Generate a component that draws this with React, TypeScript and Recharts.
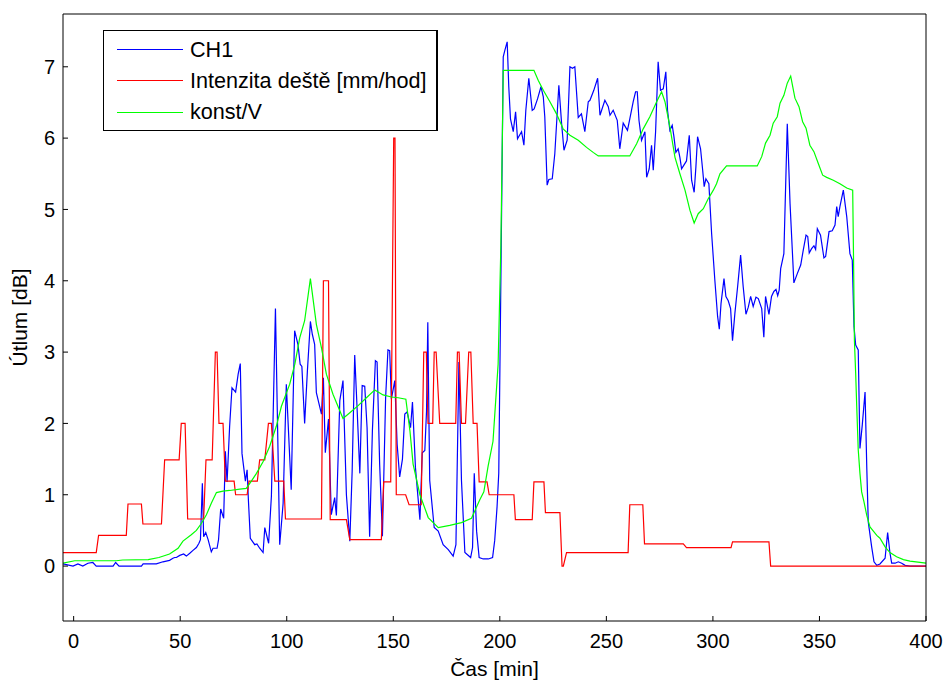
import React from 'react';
import { LineChart, Line, XAxis, YAxis, Legend } from 'recharts';

// CH1 – measured attenuation [dB]
const ch1Time = [
  -5, -0.3, 2, 4.3, 6.7, 9, 10.6, 18.5, 19.7, 21.3, 31.8, 32.6, 38.8, 41.9, 45, 46.6, 47.4, 48.2, 49.8, 51.6,
  52.9, 54.5, 56, 57.6, 58.8, 59.5, 60.4, 61, 62, 63.1, 64.6, 65.4, 67.3, 68, 69, 70.4, 71.2, 72, 73.2, 74.3,
  76, 77.2, 78.2, 79, 80.6, 81.4, 82, 82.9, 85, 86, 87.3, 88.9, 89.7, 91.5, 92.8, 94.7, 96.7, 98.3, 99.8, 102.1,
  103.7, 105.3, 106.3, 107.1, 108.4, 109.7, 111.1, 112, 113.1, 113.9, 116.3, 117.2, 118.1, 119.6, 120.9, 122.5, 123.3, 124.9, 126.4, 128,
  129.6, 130.7, 131.9, 133, 134.3, 135.4, 136.6, 137.7, 138.9, 140.2, 141.6, 142.4, 143.6, 144.9, 146.4, 147.5, 148.3, 149.1, 150.7, 151.8,
  153, 154.3, 155.4, 156.5, 158.1, 159, 160.4, 162.5, 163.6, 164.8, 165.6, 166.2, 166.7, 167.1, 169.2, 171.1, 173.4, 175.8, 178.1, 179.4,
  180.8, 182, 183.6, 186.3, 187.2, 188, 189.1, 190.3, 192.2, 194.6, 196.6, 197.6, 198.7, 199.5, 200.4, 201.6, 202.35, 203.45, 204.2, 205,
  206.3, 207.4, 208.3, 210.2, 211.3, 212.2, 213.6, 215.2, 216.1, 217.7, 219.3, 220.4, 221.1, 222.2, 223, 224.6, 225.8, 227.7, 229, 230.1,
  231.6, 232.9, 234.1, 235.2, 236.8, 238.3, 239.9, 241.5, 242.3, 244.1, 245.9, 247, 249.3, 250.9, 251.7, 253.2, 255.1, 256.3, 257.9, 259.9,
  261, 262.6, 263.7, 264.5, 265.3, 266.5, 268.1, 268.9, 270.1, 271.2, 272, 273.1, 274.3, 275.4, 276.7, 277.9, 278.7, 279.8, 280.9, 281.7,
  282.6, 283.7, 284.5, 285.3, 287.6, 288.9, 290, 291.2, 292, 292.8, 294.2, 295.2, 295.9, 296.7, 298.1, 299.4, 300.9, 302.2, 303, 303.8,
  305.2, 306.1, 307.2, 308.3, 309.2, 310.3, 311.6, 313, 314.2, 315.5, 316.6, 317.7, 318.9, 320.2, 321.3, 322.9, 323.9, 324.7, 326.3, 327.5,
  328.6, 329.6, 330.4, 331.1, 331.8, 333.3, 334.9, 336.2, 338, 339.6, 341.2, 342.4, 343.7, 344.5, 345.2, 346.3, 347.4, 348.2, 349, 350.5,
  352.1, 352.9, 354.5, 356, 357.3, 358.1, 358.8, 359.6, 361.2, 362.8, 364.3, 365.4, 366.2, 367, 368.2, 369, 370.1, 371.4, 372.2, 372.9,
  374.5, 375.6, 376.9, 378.4, 380.8, 382, 383.1, 383.9, 385.5, 387, 388.6, 390.2, 392.5, 400,
];
const ch1Value = [
  0.03, 0, 0.03, 0, 0.04, 0.05, 0, 0, 0.05, 0, 0, 0.03, 0.03, 0.06, 0.08, 0.11, 0.12, 0.12, 0.15, 0.17,
  0.14, 0.18, 0.22, 0.26, 0.32, 0.37, 1.16, 0.41, 0.47, 0.37, 0.2, 0.25, 0.25, 0.37, 0.8, 0.67, 1.61, 1.18, 1.96, 2.5,
  2.44, 2.69, 2.84, 1.58, 1.19, 1.35, 0.93, 0.39, 0.3, 0.31, 0.25, 0.19, 0.54, 0.32, 0.98, 3.61, 0.3, 0.88, 2.55, 1.07,
  3.3, 3.1, 2.83, 2.8, 2.0, 2.74, 3.43, 3.25, 3.11, 2.43, 2.13, 2.64, 1.59, 2.06, 0.72, 0.96, 0.71, 2.32, 2.6, 1.0,
  0.35, 1.33, 2.96, 2.22, 1.3, 2.53, 2.52, 1.94, 0.41, 1.9, 2.88, 2.86, 1.43, 0.42, 2.36, 3.03, 3.02, 2.34, 2.6, 1.71,
  1.25, 1.5, 2.13, 2.16, 1.94, 2.3, 1.38, 0.65, 1.59, 1.62, 2.17, 3.42, 2.13, 1.2, 0.54, 0.49, 0.3, 0.23, 0.14, 0.3,
  2.86, 1.2, 0.19, 0.12, 0.26, 1.3, 0.49, 0.12, 0.1, 0.1, 0.12, 0.36, 0.83, 1.3, 3.77, 7.14, 7.23, 7.35, 6.72, 6.27,
  6.09, 6.37, 5.99, 6.09, 5.9, 6.39, 6.84, 6.39, 6.41, 6.55, 6.72, 6.58, 6.3, 5.34, 5.42, 5.43, 5.78, 6.74, 6.2, 5.83,
  5.97, 7.0, 6.98, 7.0, 6.29, 6.34, 6.09, 6.51, 6.53, 6.67, 6.84, 6.32, 6.53, 6.44, 6.32, 6.39, 6.25, 5.85, 6.21, 6.11,
  6.27, 6.51, 6.65, 6.65, 6.25, 5.97, 6.09, 5.45, 5.57, 5.9, 5.55, 6.09, 7.07, 6.67, 6.69, 6.93, 6.39, 6.11, 6.18, 6.02,
  5.8, 5.85, 5.73, 5.57, 5.68, 6.04, 5.41, 5.24, 5.59, 6.02, 5.85, 5.55, 5.32, 5.43, 5.36, 4.66, 4.01, 3.5, 3.32, 3.68,
  4.03, 3.78, 3.72, 3.61, 3.16, 3.54, 3.92, 4.36, 3.92, 3.53, 3.63, 3.78, 3.64, 3.77, 3.75, 3.61, 3.21, 3.78, 3.53, 3.78,
  3.85, 3.88, 3.79, 3.87, 4.17, 4.38, 6.2, 5.08, 3.97, 4.1, 4.22, 4.43, 4.64, 4.62, 4.39, 4.45, 4.49, 4.44, 4.73, 4.64,
  4.32, 4.34, 4.69, 4.7, 4.78, 5.04, 4.9, 5.04, 5.27, 4.9, 4.38, 4.29, 3.36, 3.1, 3.03, 1.65, 1.98, 2.44, 1.39, 0.62,
  0.27, 0.06, 0.01, 0.03, 0.11, 0.47, 0.18, 0.04, 0.04, 0.06, 0.04, 0.01, 0, 0,
];

// Intenzita deště [mm/hod] – rain intensity (stepwise)
const rainTime = [
  -5, 10.6, 11.7, 24.7, 25.5, 31.8, 32.5, 41.2, 42.7, 49.5, 50.5, 52.3, 53.5, 61, 62.1, 65, 66.5, 67.3, 68.2, 70.1,
  71.2, 75.3, 76, 81.4, 82.3, 86.2, 87.3, 89.7, 91.4, 92.8, 94.4, 98.6, 99.4, 116.3, 117.2, 119.6, 120.4, 128, 129.6, 144.4,
  145.5, 148.8, 150.2, 150.8, 151.4, 155.8, 157.4, 163.1, 164.3, 165.5, 166.3, 168.5, 169.2, 170.1, 171.8, 179.3, 180.1, 180.9, 182, 183.9,
  185.4, 186.4, 187.5, 189.3, 190.3, 194, 195, 206.6, 207.3, 215.2, 216, 220.7, 221.4, 228.2, 229.2, 229.8, 231.3, 260.2, 261, 267.1,
  267.9, 286.1, 287.6, 308.5, 309.2, 326.3, 327.1, 400,
];
const rainValue = [
  0.19, 0.19, 0.43, 0.43, 0.87, 0.87, 0.59, 0.59, 1.49, 1.49, 2.0, 2.0, 0.66, 0.66, 1.49, 1.49, 3.0, 3.0, 2.0, 2.0,
  1.19, 1.19, 1.0, 1.0, 1.19, 1.19, 1.49, 1.49, 2.0, 2.0, 1.19, 1.19, 0.66, 0.66, 4.0, 4.0, 0.65, 0.65, 0.37, 0.37,
  1.18, 1.18, 6.0, 6.0, 1.0, 1.0, 0.86, 0.86, 3.0, 3.0, 2.0, 2.0, 3.0, 3.0, 2.0, 2.0, 3.0, 3.0, 2.0, 2.0,
  3.0, 3.0, 2.0, 2.0, 1.18, 1.18, 1.0, 1.0, 0.65, 0.65, 1.18, 1.18, 0.75, 0.75, 0.0, 0.0, 0.19, 0.19, 0.86, 0.86,
  0.31, 0.31, 0.26, 0.26, 0.34, 0.34, 0.0, 0.0,
];

// konst/V
const konstTime = [
  -5, 0.5, 20, 23, 35, 40, 45, 49, 51.3, 55.2, 57.6, 60, 62.3, 64.6, 67, 70.1, 73.2, 78, 81, 83.4,
  85.8, 89, 92, 95.1, 97.5, 101.4, 103.8, 106.1, 108.4, 111.1, 113.9, 116.3, 118.6, 121.7, 126.4, 129.6, 133.5, 137.4, 141.3, 145.2,
  149.1, 152.3, 155.9, 157.8, 159.3, 162.5, 166.4, 171.1, 176.5, 182, 186.7, 190.6, 192.5, 194.5, 196.8, 199.2, 200.5, 201.6, 216, 218,
  220.4, 223.5, 226.6, 229.7, 232.9, 236.8, 240.7, 243.8, 246.2, 261, 264.2, 267.3, 270.4, 273.6, 275.9, 277.5, 279.8, 282.2, 284.5, 286.9,
  289.2, 291.2, 293.1, 295.5, 297.8, 300.2, 301.7, 303.3, 306.4, 320.8, 322.9, 324.7, 326.8, 328.3, 330.2, 331.5, 333.3, 334.9, 336.5, 338.5,
  340.4, 342.1, 343.7, 345.5, 347.4, 349.5, 351.5, 353.4, 356.5, 359.6, 362.8, 365.6, 366, 366.4, 367, 367.5, 368.2, 369, 369.8, 370.9,
  372.2, 373.7, 375.3, 376.9, 378.4, 380.8, 383.1, 386.2, 389.4, 392.5, 400,
];
const konstValue = [
  0.04, 0.075, 0.075, 0.085, 0.09, 0.12, 0.17, 0.25, 0.35, 0.44, 0.5, 0.6, 0.72, 0.88, 1.03, 1.05, 1.06, 1.08, 1.09, 1.19,
  1.3, 1.47, 1.68, 1.96, 2.24, 2.55, 2.83, 3.2, 3.44, 4.03, 3.39, 3.06, 2.69, 2.41, 2.07, 2.15, 2.25, 2.36, 2.47, 2.4,
  2.37, 2.36, 2.34, 1.9, 1.43, 1.0, 0.68, 0.54, 0.57, 0.61, 0.67, 0.93, 1.04, 1.4, 1.75, 2.83, 4.5, 6.95, 6.95, 6.81,
  6.67, 6.51, 6.34, 6.13, 6.04, 5.97, 5.87, 5.8, 5.75, 5.75, 5.92, 6.13, 6.3, 6.51, 6.65, 6.51, 6.16, 5.73, 5.5, 5.27,
  4.99, 4.81, 4.94, 5.01, 5.15, 5.27, 5.36, 5.5, 5.61, 5.61, 5.74, 5.93, 6.04, 6.21, 6.3, 6.49, 6.6, 6.77, 6.87, 6.56,
  6.44, 6.23, 6.14, 5.9, 5.81, 5.64, 5.48, 5.45, 5.41, 5.36, 5.3, 5.27, 4.3, 3.17, 2.7, 2.23, 1.63, 1.3, 1.04, 0.9,
  0.71, 0.55, 0.49, 0.43, 0.39, 0.27, 0.19, 0.13, 0.09, 0.07, 0.04,
];

const xTicks = [0, 50, 100, 150, 200, 250, 300, 350, 400];
const yTicks = [0, 1, 2, 3, 4, 5, 6, 7];

const zip = (t: number[], v: number[]) => t.map((x, i) => ({ x, y: v[i] }));
const ch1Data = zip(ch1Time, ch1Value);
const rainData = zip(rainTime, rainValue);
const konstData = zip(konstTime, konstValue);

const FONT = '"Liberation Sans", Arial, Helvetica, sans-serif';
const X_DOMAIN: [number, number] = [-5, 400];
const Y_DOMAIN: [number, number] = [-0.77, 7.74];

const LegendBox = (props: any) => {
  const items = props.payload || [];
  return (
    <div
      style={{
        width: 335,
        height: 101,
        boxSizing: 'border-box',
        borderTop: '1px solid #000',
        borderLeft: '1px solid #000',
        borderBottom: '1.5px solid #000',
        borderRight: '2px solid #000',
        background: '#fff',
        paddingTop: 3,
        fontFamily: FONT,
        fontSize: 21.6,
        color: '#000',
      }}
    >
      {items.map((it: any) => (
        <div key={it.value} style={{ height: 31.3, display: 'flex', alignItems: 'center' }}>
          <div style={{ width: 66, marginLeft: 13, borderTop: `1px solid ${it.color}` }} />
          <span style={{ marginLeft: 7, whiteSpace: 'nowrap', lineHeight: '22px' }}>{it.value}</span>
        </div>
      ))}
    </div>
  );
};

export default function App() {
  const tickStyle = { fill: '#000', fontSize: 20, fontFamily: FONT };
  return (
    <div style={{ position: 'absolute', left: 0, top: 0, width: 946, height: 682, background: '#fff' }}>
      <LineChart width={946} height={682} margin={{ top: 13, right: 19, bottom: 0, left: 0 }}>
        <XAxis
          xAxisId="b"
          type="number"
          dataKey="x"
          domain={X_DOMAIN}
          ticks={xTicks}
          interval={0}
          allowDataOverflow
          height={61}
          stroke="#000"
          tickSize={-5}
          tickMargin={18}
          tick={tickStyle}
          label={{ value: 'Čas [min]', position: 'insideBottom', offset: 6, fill: '#000', fontSize: 21, fontFamily: FONT }}
        />
        <XAxis
          xAxisId="t"
          orientation="top"
          type="number"
          dataKey="x"
          domain={X_DOMAIN}
          ticks={xTicks}
          interval={0}
          allowDataOverflow
          height={1}
          stroke="#000"
          tickSize={-5}
          tick={false}
        />
        <YAxis
          yAxisId="l"
          type="number"
          domain={Y_DOMAIN}
          ticks={yTicks}
          interval={0}
          allowDataOverflow
          width={63}
          stroke="#000"
          tickSize={-5}
          tickMargin={13}
          tick={tickStyle}
          label={{ value: 'Útlum [dB]', angle: -90, position: 'center', dx: -12, fill: '#000', fontSize: 21, fontFamily: FONT }}
        />
        <YAxis
          yAxisId="r"
          orientation="right"
          type="number"
          domain={Y_DOMAIN}
          ticks={yTicks}
          interval={0}
          allowDataOverflow
          width={1}
          stroke="#000"
          tickSize={-5}
          tick={false}
        />
        <Line
          xAxisId="b"
          yAxisId="l"
          data={ch1Data}
          dataKey="y"
          name="CH1"
          type="linear"
          stroke="#0000ff"
          strokeWidth={1.2}
          dot={false}
          activeDot={false}
          isAnimationActive={false}
        />
        <Line
          xAxisId="b"
          yAxisId="l"
          data={rainData}
          dataKey="y"
          name="Intenzita deště [mm/hod]"
          type="linear"
          stroke="#ff0000"
          strokeWidth={1.2}
          dot={false}
          activeDot={false}
          isAnimationActive={false}
        />
        <Line
          xAxisId="b"
          yAxisId="l"
          data={konstData}
          dataKey="y"
          name="konst/V"
          type="linear"
          stroke="#00ff00"
          strokeWidth={1.2}
          dot={false}
          activeDot={false}
          isAnimationActive={false}
        />
        <Legend
          layout="vertical"
          align="center"
          verticalAlign="middle"
          content={<LegendBox />}
          wrapperStyle={{ left: 103, top: 30, width: 335, height: 101 }}
        />
      </LineChart>
    </div>
  );
}
